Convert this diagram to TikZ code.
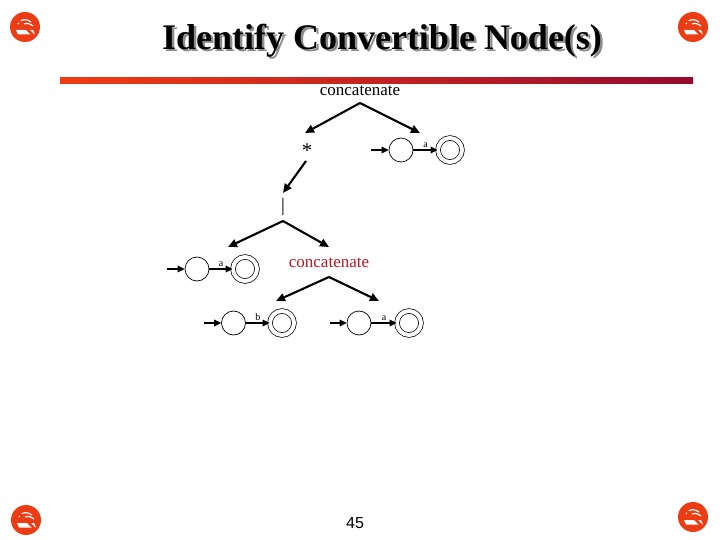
\documentclass[tikz,border=0pt]{standalone}
\usepackage{fontspec}
\setmainfont{Liberation Serif}
\newfontfamily\arialfont{Liberation Sans}
\usetikzlibrary{arrows.meta}
\definecolor{iconred}{RGB}{235,60,20}
\definecolor{barL}{RGB}{240,60,20}
\definecolor{barR}{RGB}{150,10,45}
\definecolor{redtxt}{RGB}{195,20,40}
\tikzset{
  thick arrow/.style={line width=2.1pt,-{Triangle[length=9pt,width=8pt]}},
  in arrow/.style={line width=1.9pt,-{Triangle[length=7pt,width=6.5pt]}},
  state/.style={circle,draw,line width=0.7pt,minimum size=24pt,inner sep=0pt},
  final/.style={circle,draw,line width=0.7pt,minimum size=24pt,inner sep=0pt,double,double distance=4pt},
  edgelbl/.style={font=\fontsize{10}{11}\selectfont,inner sep=1pt},
  optext/.style={font=\fontsize{17}{19}\selectfont,inner sep=0pt},
}
\newcommand{\nosmoke}[2]{%
  \begin{scope}[shift={(#1,#2)}]
    \fill[iconred] (0,0) circle (15);
    \fill[white] (-9,3) -- (8,3) -- (10,7.5) -- (-7,7.5) -- cycle;
    \draw[white,line width=1.2pt] (-7,-3) .. controls (-4,-9) and (2,-8) .. (6,-5);
    \draw[white,line width=1.2pt] (-3,-1) .. controls (0,-5) and (4,-4) .. (8,-1);
    \draw[iconred,line width=2.6pt] (-9,-9) -- (9,9);
  \end{scope}}
\begin{document}
\begin{tikzpicture}[x=1pt,y=-1pt]
\useasboundingbox (0,0) rectangle (720,540);
\fill[white] (0,0) rectangle (720,540);
% corner icons
\nosmoke{25}{27}
\nosmoke{693}{27}
\nosmoke{26}{520}
\nosmoke{693}{517}
% title
\node[anchor=base,text=black!45,font=\fontsize{36}{40}\selectfont\bfseries] (titleshadow) at (384.5,52) {Identify Convertible Node(s)};
\node[anchor=base,font=\fontsize{36}{40}\selectfont\bfseries] (title) at (382,50) {Identify Convertible Node(s)};
% bar
\shade[left color=barL,right color=barR] (60,78) rectangle (693,84);
% top concatenate
\node[optext] (c1) at (360,91) {concatenate};
\coordinate (c1b) at (360,103);
\coordinate (e1) at (305,133);
\coordinate (e2) at (420,133);
\draw[thick arrow] (c1b) -- (e1);
\draw[thick arrow] (c1b) -- (e2);
\node[optext,font=\fontsize{21}{23}\selectfont] (star) at (307,151) {*};
% top automaton
\coordinate (i1) at (371,150);
\node[state] (s1) at (401,150) {};
\node[final] (f1) at (450,150) {};
\draw[in arrow] (i1) -- (s1);
\draw[in arrow] (s1) -- node[edgelbl,above] {a} (f1);
% star to bar
\coordinate (u1) at (306,161);
\coordinate (u2) at (283,193);
\draw[thick arrow] (u1) -- (u2);
\node[optext,font=\fontsize{19}{21}\selectfont] (alt) at (283,207) {|};
\coordinate (a2) at (283,221);
\coordinate (e3) at (228,247);
\coordinate (e4) at (329,247);
\draw[thick arrow] (a2) -- (e3);
\draw[thick arrow] (a2) -- (e4);
% left automaton
\coordinate (i2) at (167,269);
\node[state] (s2) at (197,269) {};
\node[final] (f2) at (245,269) {};
\draw[in arrow] (i2) -- (s2);
\draw[in arrow] (s2) -- node[edgelbl,above] {a} (f2);
% red concatenate
\node[optext,text=redtxt] (c2) at (329,263) {concatenate};
\coordinate (a3) at (329,277);
\coordinate (e5) at (276,301);
\coordinate (e6) at (379,301);
\draw[thick arrow] (a3) -- (e5);
\draw[thick arrow] (a3) -- (e6);
% bottom automata
\coordinate (i3) at (204,323);
\node[state] (s3) at (233.5,323) {};
\node[final] (f3) at (282,323) {};
\draw[in arrow] (i3) -- (s3);
\draw[in arrow] (s3) -- node[edgelbl,above] {b} (f3);
\coordinate (i4) at (330,323);
\node[state] (s4) at (359,323) {};
\node[final] (f4) at (409,323) {};
\draw[in arrow] (i4) -- (s4);
\draw[in arrow] (s4) -- node[edgelbl,above] {a} (f4);
% page number
\node[font=\arialfont\fontsize{16}{18}\selectfont] (pg) at (355,523) {45};
\end{tikzpicture}
\end{document}
